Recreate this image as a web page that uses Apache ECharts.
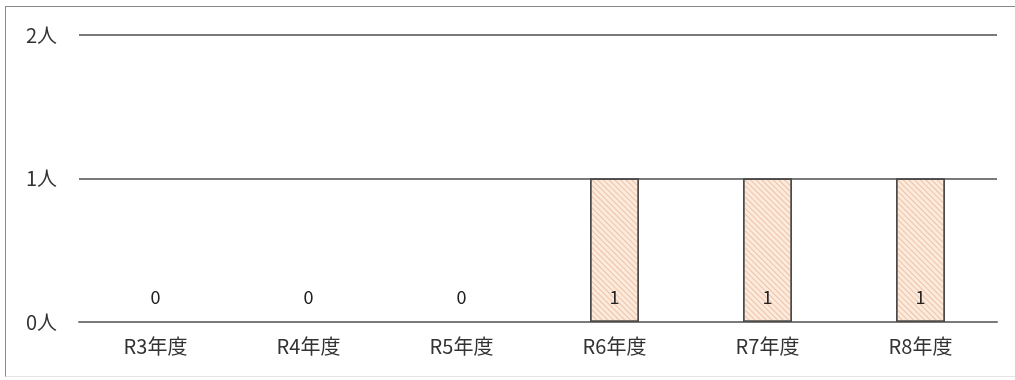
<!DOCTYPE html>
<html>
<head>
<meta charset="utf-8">
<script src="https://cdn.jsdelivr.net/npm/echarts@6/dist/echarts.min.js"></script>
<style>
  html, body { margin: 0; padding: 0; background: #fff; }
  #wrap { position: absolute; left: 5px; top: 6px; width: 1010px; height: 371px;
          border-left: 1px solid #8a8a8a; border-top: 1px solid #8a8a8a; border-bottom: 1px solid #e4e4e4; box-sizing: border-box; }
  #chart { position: absolute; left: -5px; top: -6px; width: 1015px; height: 380px; }
</style>
</head>
<body>
<div id="wrap"><div id="chart"></div></div>
<script>
// 年度ごとの人数
const categories = ['R3年度', 'R4年度', 'R5年度', 'R6年度', 'R7年度', 'R8年度']
const values = [0, 0, 0, 1, 1, 1]
const yMax = 2

const FONT = "'Noto Sans CJK JP', 'Open Sans', sans-serif"
const chart = echarts.init(document.getElementById('chart'))

// 0 の棒は枠線を出さない
const barData = values.map(v => ({ value: v, itemStyle: v === 0 ? { borderWidth: 0 } : {} }))

chart.setOption({
    animation: false,
    textStyle: { fontFamily: FONT },
    grid: { left: 78, right: 19, top: 34, bottom: 59 },
    xAxis: {
        type: 'category',
        data: categories,
        axisLine: { lineStyle: { color: '#7a7a7a', width: 2 } },
        axisTick: { show: false },
        axisLabel: { color: '#333', fontSize: 20, margin: 14, fontFamily: FONT }
    },
    yAxis: {
        type: 'value',
        min: 0,
        max: yMax,
        interval: 1,
        axisLine: { show: false },
        axisTick: { show: false },
        splitLine: { lineStyle: { color: '#7a7a7a', width: 2 } },
        axisLabel: { color: '#333', fontSize: 20, margin: 22, formatter: v => `${v}人`, fontFamily: FONT }
    },
    series: [{
        type: 'bar',
        data: barData,
        barWidth: 49,
        itemStyle: {
            color: '#fcebdc',
            borderColor: '#4a4a4a',
            borderWidth: 1.5,
            decal: {
                symbol: 'rect',
                dashArrayX: [1, 0],
                dashArrayY: [1, 3],
                rotation: Math.PI / 4,
                color: 'rgba(226, 160, 120, 0.55)'
            }
        },
        label: {
            show: true,
            position: 'insideBottom',
            distance: 16,
            color: '#222',
            fontSize: 18,
            fontFamily: FONT
        }
    }]
})
</script>
</body>
</html>
